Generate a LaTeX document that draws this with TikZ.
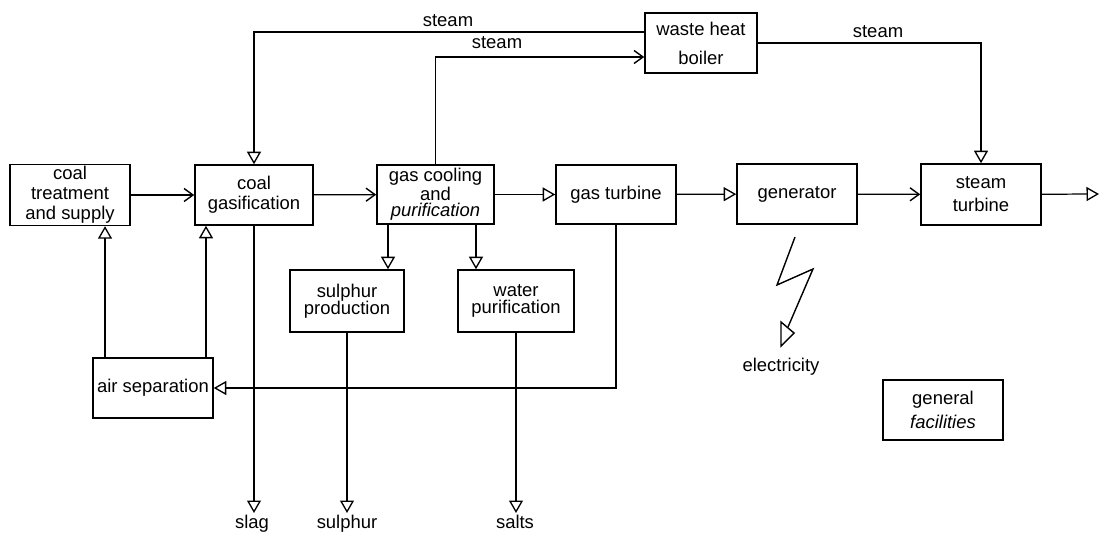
\documentclass[tikz,border=0pt]{standalone}
\usepackage{fontspec}
\setmainfont{Liberation Sans}
\usetikzlibrary{arrows.meta}
\begin{document}
\tikzset{
  box/.style={draw, line width=0.9pt, align=center, inner sep=1pt,
    font=\fontsize{10.5}{11.4}\selectfont},
  conn/.style={line width=0.7pt},
  tri/.style={conn, -{Triangle[open,length=0.25cm,width=0.28cm,line width=0.75pt]}},
  barb/.style={conn, -{Straight Barb[length=0.18cm,width=0.26cm,line width=0.8pt]}},
  lbl/.style={font=\fontsize{10.5}{12}\selectfont, inner sep=1pt},
}
\begin{tikzpicture}[x=0.02cm, y=-0.02cm]
\useasboundingbox (0,0) rectangle (1099,537);
% boxes
\node[box, minimum width=2.4cm, minimum height=1.2cm] (ct) at (70,195) {coal\\treatment\\and supply};
\node[box, minimum width=2.36cm, minimum height=1.2cm] (cg) at (254,195) {coal\\gasification};
\node[box, minimum width=2.34cm, minimum height=1.18cm, font=\fontsize{10.5}{9.1}\selectfont] (gc) at (435.5,194.5) {gas cooling\\and\\\textit{purification}};
\node[box, minimum width=2.4cm, minimum height=1.18cm] (gt) at (616,194.5) {gas turbine};
\node[box, minimum width=2.4cm, minimum height=1.2cm] (gen) at (797,194) {generator};
\node[box, minimum width=2.4cm, minimum height=1.22cm, font=\fontsize{10.5}{13}\selectfont] (st) at (981,194.5) {steam\\turbine};
\node[box, minimum width=2.24cm, minimum height=1.2cm, font=\fontsize{10.5}{16.5}\selectfont] (whb) at (701,43) {waste heat\\boiler};
\node[box, minimum width=2.28cm, minimum height=1.24cm, font=\fontsize{10.5}{9.8}\selectfont] (sp) at (347,301) {sulphur\\production};
\node[box, minimum width=2.32cm, minimum height=1.24cm, font=\fontsize{10.5}{9.8}\selectfont] (wp) at (516,301) {water\\purification};
\node[box, minimum width=2.4cm, minimum height=1.2cm] (as) at (153,388) {air separation};
\node[box, minimum width=2.4cm, minimum height=1.2cm, font=\fontsize{10.5}{14}\selectfont] (gf) at (943,410) {general\\\textit{facilities}};
% output labels
\node[lbl, anchor=north] (slag) at (252,513) {slag};
\node[lbl, anchor=north] (sulph) at (347,513) {sulphur};
\node[lbl, anchor=north] (salts) at (515,513) {salts};
\node[lbl] (el) at (781,367) {electricity};
\coordinate (out) at (1099,194);
% main line
\draw[barb] (ct) -- (cg);
\draw[barb] (cg) -- (gc);
\draw[tri] (gc) -- (gt);
\draw[tri] (gt) -- (gen);
\draw[barb] (gen) -- (st);
\draw[tri] (st) -- (out);
% steam lines
\draw[tri] ([yshift=0.22cm]whb.west) -| (cg.north);
\node[lbl] (s1) at (448,21) {steam};
\draw[barb] (gc.north) |- ([yshift=-0.28cm]whb.west);
\node[lbl] (s2) at (497,43) {steam};
\draw[tri] (whb.east) -| (st.north);
\node[lbl] (s3) at (878,32) {steam};
% branches from gas cooling
\draw[tri] ([xshift=-0.95cm]gc.south) -- ([xshift=-0.95cm]gc.south |- sp.north);
\draw[tri] ([xshift=0.81cm]gc.south) -- ([xshift=0.81cm]gc.south |- wp.north);
% gas turbine to air separation
\draw[tri] (gt.south) |- (as.east);
% air separation up
\draw[tri] ([xshift=-0.96cm]as.north) -- ([xshift=-0.96cm]as.north |- ct.south);
\draw[tri] ([xshift=1.06cm]as.north) -- ([xshift=1.06cm]as.north |- cg.south);
% outputs
\draw[tri] (cg.south) -- (cg.south |- slag.north);
\draw[tri] (sp.south) -- (sp.south |- sulph.north);
\draw[tri] (wp.south) -- (wp.south |- salts.north);
% lightning
\draw[line width=0.8pt, line join=miter] (795,237) -- (777,285) -- (813,269) -- (788,327);
\draw[line width=0.8pt] (781,322) -- (794,333) -- (781,346) -- cycle;
\end{tikzpicture}
\end{document}
